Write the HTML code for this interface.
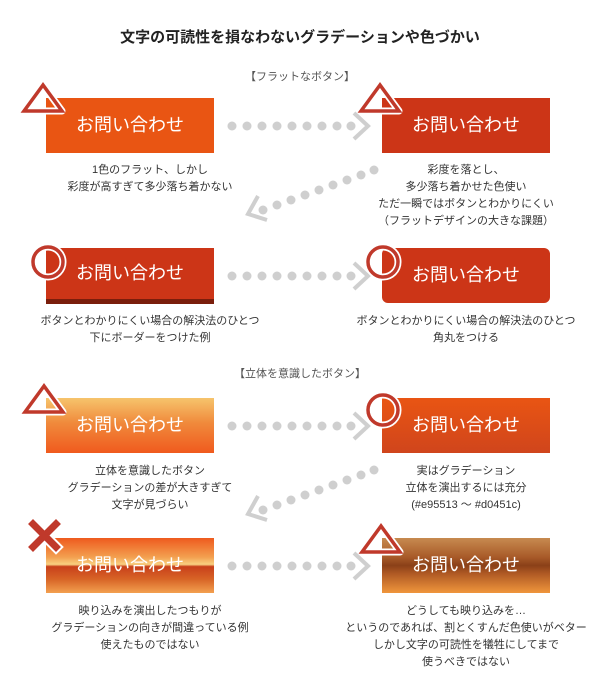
<!DOCTYPE html>
<html><head><meta charset="utf-8"><style>
body{margin:0;width:600px;height:683px;background:#fff;position:relative;font-family:"Liberation Sans","Noto Sans CJK JP",sans-serif;overflow:hidden;color:#333}
.t{position:absolute;left:0;width:600px;text-align:center}
.b{position:absolute;width:168px;height:55px;color:#fff;font-size:18px;line-height:55px;text-align:center}
.c{position:absolute;width:300px;text-align:center;font-size:11px;line-height:17px;color:#333}
svg{position:absolute;left:0;top:0}
</style></head><body>
<div class="t" style="top:26px;font-size:15px;font-weight:bold;color:#222">文字の可読性を損なわないグラデーションや色づかい</div>
<div class="t" style="top:68px;font-size:11px;color:#555">【フラットなボタン】</div>
<div class="t" style="top:365px;font-size:11px;color:#555">【立体を意識したボタン】</div>

<div class="b" style="left:46px;top:98px;background:#e95513">お問い合わせ</div>
<div class="b" style="left:382px;top:98px;background:#cc3517">お問い合わせ</div>
<div class="b" style="left:46px;top:248px;background:#cc3517;border-bottom:5px solid #7a1e0c;height:51px;line-height:51px">お問い合わせ</div>
<div class="b" style="left:382px;top:248px;background:#cc3517;border-radius:6px">お問い合わせ</div>
<div class="b" style="left:46px;top:398px;background:linear-gradient(#f6c46c,#f08a3c 45%,#f05a1e)">お問い合わせ</div>
<div class="b" style="left:382px;top:398px;background:linear-gradient(#e95513,#d0451c)">お問い合わせ</div>
<div class="b" style="left:46px;top:538px;background:linear-gradient(#ee5a1e 0%,#f3a050 35%,#f8d080 48%,#c8401a 52%,#d86426 75%,#f3a050 100%)">お問い合わせ</div>
<div class="b" style="left:382px;top:538px;background:linear-gradient(#c78a50 0%,#a85a28 35%,#8a4018 50%,#b05a24 65%,#f0963c 100%)">お問い合わせ</div>

<div class="c" style="left:0;top:162px">1色のフラット、しかし<br>彩度が高すぎて多少落ち着かない</div>
<div class="c" style="left:316px;top:162px">彩度を落とし、<br>多少落ち着かせた色使い<br>ただ一瞬ではボタンとわかりにくい<br>（フラットデザインの大きな課題）</div>
<div class="c" style="left:0;top:313px">ボタンとわかりにくい場合の解決法のひとつ<br>下にボーダーをつけた例</div>
<div class="c" style="left:316px;top:313px">ボタンとわかりにくい場合の解決法のひとつ<br>角丸をつける</div>
<div class="c" style="left:0;top:463px">立体を意識したボタン<br>グラデーションの差が大きすぎて<br>文字が見づらい</div>
<div class="c" style="left:316px;top:463px">実はグラデーション<br>立体を演出するには充分<br>(#e95513 ～ #d0451c)</div>
<div class="c" style="left:0;top:603px">映り込みを演出したつもりが<br>グラデーションの向きが間違っている例<br>使えたものではない</div>
<div class="c" style="left:316px;top:603px">どうしても映り込みを…<br>というのであれば、割とくすんだ色使いがベター<br>しかし文字の可読性を犠牲にしてまで<br>使うべきではない</div>

<svg width="600" height="683">
<defs>
<g id="dots" fill="#cfcfcf"><circle cx="232" cy="0" r="4.5"/><circle cx="247" cy="0" r="4.5"/><circle cx="262" cy="0" r="4.5"/><circle cx="277" cy="0" r="4.5"/><circle cx="292" cy="0" r="4.5"/><circle cx="307" cy="0" r="4.5"/><circle cx="322" cy="0" r="4.5"/><circle cx="337" cy="0" r="4.5"/><circle cx="351" cy="0" r="4.5"/><polyline points="354,-13 368,0 354,13" fill="none" stroke="#cfcfcf" stroke-width="4"/></g>
<g id="diag" fill="#cfcfcf"><circle cx="374" cy="0" r="4.5"/><circle cx="361" cy="5" r="4.5"/><circle cx="347" cy="10" r="4.5"/><circle cx="333" cy="15" r="4.5"/><circle cx="319" cy="20" r="4.5"/><circle cx="305" cy="25" r="4.5"/><circle cx="291" cy="30" r="4.5"/><circle cx="277" cy="35" r="4.5"/><circle cx="263" cy="40" r="4.5"/><polyline points="258,26 248,44 267,50" fill="none" stroke="#cfcfcf" stroke-width="4"/></g>
<g id="tri"><polygon points="0,-14 -19,12 19,12" fill="none" stroke="#fff" stroke-width="7" stroke-linejoin="round"/><polygon points="0,-14 -19,12 19,12" fill="none" stroke="#c0392b" stroke-width="3.5"/></g>
</defs>
<use href="#dots" y="126"/><use href="#dots" y="276"/><use href="#dots" y="426"/><use href="#dots" y="566"/>
<use href="#diag" y="170"/><use href="#diag" y="470"/>
<use href="#tri" x="43" y="99"/><use href="#tri" x="380" y="99"/><use href="#tri" x="44" y="400"/><use href="#tri" x="381" y="540"/>
<circle cx="48" cy="262" r="15" fill="none" stroke="#fff" stroke-width="7"/><circle cx="48" cy="262" r="15" fill="none" stroke="#c0392b" stroke-width="3.5"/>
<circle cx="383" cy="262" r="15" fill="none" stroke="#fff" stroke-width="7"/><circle cx="383" cy="262" r="15" fill="none" stroke="#c0392b" stroke-width="3.5"/>
<circle cx="383" cy="410" r="15" fill="none" stroke="#fff" stroke-width="7"/><circle cx="383" cy="410" r="15" fill="none" stroke="#c0392b" stroke-width="3.5"/>
<g stroke-linecap="square"><path d="M33,524 L56,547 M56,524 L33,547" stroke="#fff" stroke-width="11"/><path d="M33,524 L56,547 M56,524 L33,547" stroke="#c0392b" stroke-width="7"/></g>
</svg>
</body></html>
